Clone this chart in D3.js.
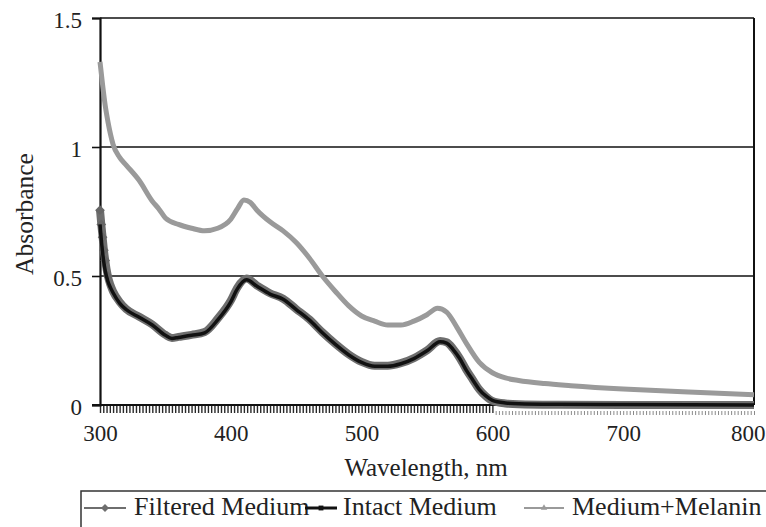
<!DOCTYPE html>
<html>
<head>
<meta charset="utf-8">
<script src="https://cdn.jsdelivr.net/npm/d3@7"></script>
<style>
  html, body { margin: 0; padding: 0; background: #fff; }
  svg { display: block; }
</style>
</head>
<body>
<svg id="chart" width="766" height="527"></svg>
<script>
// Absorbance spectra, wavelength in nm
const melaninWl = [300,302,304,306,308,310,315,320,330,340,345,350,360,370,380,390,400,405,410,415,420,430,440,450,460,470,480,490,500,510,520,530,540,550,558,565,573,580,590,600,610,620,640,660,700,750,800];
const melaninAbs = [1.33,1.24,1.16,1.10,1.05,1.01,0.96,0.93,0.87,0.79,0.76,0.725,0.70,0.685,0.675,0.685,0.72,0.76,0.795,0.785,0.755,0.71,0.675,0.63,0.57,0.50,0.44,0.385,0.345,0.325,0.31,0.31,0.325,0.35,0.375,0.36,0.30,0.24,0.165,0.125,0.105,0.095,0.083,0.075,0.062,0.05,0.04];

const mediumWl = [300,301,302,303,304,306,308,310,315,320,330,340,350,355,360,370,380,390,400,405,412,420,430,440,450,460,470,480,490,500,510,520,530,540,550,560,565,570,575,580,585,590,595,600,610,620,650,700,750,800];
const intactAbs = [0.70,0.64,0.59,0.55,0.52,0.48,0.455,0.435,0.395,0.37,0.34,0.31,0.27,0.258,0.262,0.27,0.28,0.33,0.40,0.45,0.485,0.46,0.43,0.41,0.37,0.33,0.28,0.235,0.195,0.165,0.15,0.15,0.16,0.18,0.21,0.245,0.24,0.215,0.18,0.135,0.097,0.06,0.035,0.018,0.008,0.005,0.003,0.002,0.001,0.0];
const filteredAbs = [0.755,0.70,0.65,0.60,0.56,0.50,0.465,0.44,0.40,0.372,0.342,0.312,0.272,0.26,0.264,0.272,0.283,0.335,0.405,0.455,0.49,0.463,0.433,0.412,0.372,0.332,0.282,0.237,0.197,0.167,0.152,0.152,0.162,0.182,0.212,0.248,0.243,0.218,0.182,0.137,0.098,0.06,0.034,0.016,0.006,0.003,0.001,0.0,0.0,0.0];

const xTickLabels = [300, 400, 500, 600, 700, 800];
const yTickLabels = [0, 0.5, 1, 1.5];
const seriesNames = ["Filtered Medium", "Intact Medium", "Medium+Melanin"];

const FONT = "'Liberation Serif', serif";
const svg = d3.select("#chart");
const x = d3.scaleLinear().domain([300, 800]).range([100, 754]);
const y = d3.scaleLinear().domain([0, 1.5]).range([405, 18]);

// horizontal grid lines
svg.append("g").selectAll("line").data(yTickLabels.filter(v => v > 0)).join("line")
  .attr("x1", x(300)).attr("x2", x(800))
  .attr("y1", d => y(d)).attr("y2", d => y(d))
  .attr("stroke", "#111").attr("stroke-width", 1.6);

// right frame edge
svg.append("line").attr("x1", x(800)).attr("x2", x(800))
  .attr("y1", y(1.5)).attr("y2", y(0))
  .attr("stroke", "#111").attr("stroke-width", 2);

// dense category ticks under the x axis
const minorAxis = d3.axisBottom(x).tickValues(d3.range(300, 800.01, 2.5)).tickSize(7).tickFormat("");
const gMinor = svg.append("g").attr("transform", `translate(0,${y(0) + 1})`).call(minorAxis);
gMinor.select(".domain").remove();
gMinor.selectAll(".tick line")
  .attr("stroke", d => d <= 600 ? "#2a2a2a" : "#8a8a8a")
  .attr("stroke-width", d => d <= 600 ? 1.4 : 1)
  .attr("y1", d => d <= 600 ? 0 : 5)
  .attr("y2", d => d <= 600 ? 7 : 9);

// x axis labels
const xAxis = d3.axisBottom(x).tickValues(xTickLabels).tickSize(0).tickPadding(20).tickFormat(d3.format("d"));
const gx = svg.append("g").attr("transform", `translate(0,${y(0)})`).call(xAxis)
  .attr("font-family", null).attr("font-size", 23);
gx.select(".domain").remove();
gx.selectAll("text").attr("fill", "#222").style("font-family", FONT)
  .attr("text-anchor", d => d === 800 ? "end" : "middle")
  .attr("dx", d => d === 800 ? 11 : 0);

// y axis
const yAxis = d3.axisLeft(y).tickValues(yTickLabels).tickSize(8).tickPadding(10).tickFormat(d => String(d));
const gy = svg.append("g").attr("transform", `translate(${x(300)},0)`).call(yAxis)
  .attr("font-family", null).attr("font-size", 23);
gy.select(".domain").attr("stroke", "#111").attr("stroke-width", 2.2);
gy.selectAll(".tick line").attr("stroke", "#111").attr("stroke-width", 1.6);
gy.selectAll("text").attr("fill", "#222").attr("dy", "0.42em").style("font-family", FONT);

const line = d3.line().curve(d3.curveMonotoneX).x(d => x(d[0])).y(d => y(d[1]));

// x axis baseline
svg.append("line").attr("x1", x(300) - 8).attr("x2", x(800))
  .attr("y1", y(0)).attr("y2", y(0)).attr("stroke", "#111").attr("stroke-width", 2);

// Filtered Medium (grey diamond halo)
const filtered = mediumWl.map((w, i) => [w, filteredAbs[i]]);
svg.append("path").datum(filtered).attr("d", line)
  .attr("fill", "none").attr("stroke", "#6e6e6e").attr("stroke-width", 8).attr("stroke-linejoin", "round");
svg.append("g").selectAll("path").data(filtered.filter(d => d[0] <= 306)).join("path")
  .attr("d", d3.symbol(d3.symbolDiamond2, 60))
  .attr("transform", d => `translate(${x(d[0])},${y(d[1])})`)
  .attr("fill", "#666");

// Intact Medium (black)
const intact = mediumWl.map((w, i) => [w, intactAbs[i]]);
svg.append("path").datum(intact).attr("d", line)
  .attr("fill", "none").attr("stroke", "#111").attr("stroke-width", 3.5).attr("stroke-linejoin", "round");

// Medium+Melanin (light grey)
const melanin = melaninWl.map((w, i) => [w, melaninAbs[i]]);
svg.append("path").datum(melanin).attr("d", line)
  .attr("fill", "none").attr("stroke", "#9a9a9a").attr("stroke-width", 5).attr("stroke-linejoin", "round");

// axis titles
svg.append("text").attr("x", 426).attr("y", 476).attr("text-anchor", "middle").attr("fill", "#222")
  .style("font-family", FONT).attr("font-size", 25).text("Wavelength, nm");
svg.append("text").attr("transform", "translate(33,214) rotate(-90)").attr("text-anchor", "middle").attr("fill", "#222")
  .style("font-family", FONT).attr("font-size", 25.5).text("Absorbance");

// legend
const lg = svg.append("g");
lg.append("rect").attr("x", 81).attr("y", 491).attr("width", 760).attr("height", 80)
  .attr("fill", "#fff").attr("stroke", "#333").attr("stroke-width", 1.5);

const legendItems = [
  { name: seriesNames[0], color: "#6e6e6e", sym: d3.symbolDiamond2, size: 40, lx: 84, lw: 42, tx: 134 },
  { name: seriesNames[1], color: "#111", sym: d3.symbolSquare2, size: 30, lx: 305, lw: 32, tx: 343 },
  { name: seriesNames[2], color: "#9a9a9a", sym: d3.symbolTriangle2, size: 30, lx: 524, lw: 40, tx: 572 }
];
const ly = 515;
legendItems.forEach(it => {
  lg.append("line").attr("x1", it.lx).attr("x2", it.lx + it.lw).attr("y1", ly - 7).attr("y2", ly - 7)
    .attr("stroke", it.color).attr("stroke-width", it.color === "#111" ? 3 : 2);
  lg.append("path").attr("d", d3.symbol(it.sym, it.size))
    .attr("transform", `translate(${it.lx + it.lw / 2},${ly - 7})`).attr("fill", it.color);
  lg.append("text").attr("x", it.tx).attr("y", ly).attr("font-size", 26).attr("fill", "#222")
    .style("font-family", FONT).text(it.name);
});
</script>
</body>
</html>
